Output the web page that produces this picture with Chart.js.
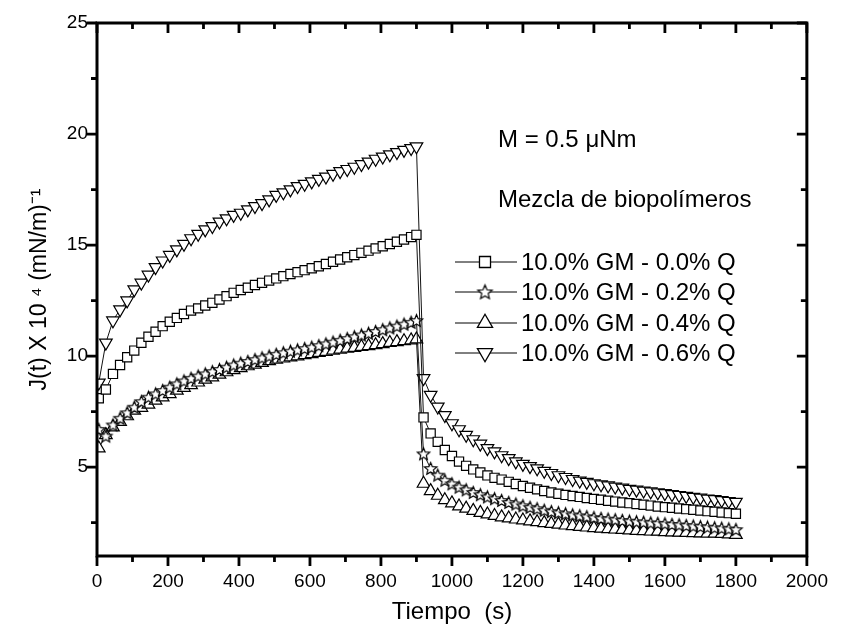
<!DOCTYPE html>
<html>
<head>
<meta charset="utf-8">
<script src="https://cdn.jsdelivr.net/npm/chart.js@4.4.1/dist/chart.umd.min.js"></script>
<style>
  html, body { margin: 0; padding: 0; background: #fff; }
  #wrap { width: 842px; height: 640px; }
</style>
</head>
<body>
<div id="wrap"><canvas id="canvas1"></canvas></div>
<script>
// tiempos de medida (s): fluencia 0-900, recuperacion 900-1800
const tiempos = [5,25,45,65,85,105,125,145,165,185,205,225,245,265,285,305,325,345,365,385,405,425,445,465,485,505,525,545,565,585,605,625,645,665,685,705,725,745,765,785,805,825,845,865,885,900,
  920,940,960,980,1000,1020,1040,1060,1080,1100,1120,1140,1160,1180,1200,1220,1240,1260,1280,1300,1320,1340,1360,1380,1400,1420,1440,1460,1480,1500,1520,1540,1560,1580,1600,1620,1640,1660,1680,1700,1720,1740,1760,1780,1800];

const q00 = [8.1,8.5,9.2,9.6,9.95,10.25,10.6,10.87,11.1,11.35,11.55,11.72,11.9,12.05,12.15,12.28,12.4,12.55,12.7,12.85,12.98,13.08,13.2,13.3,13.4,13.5,13.6,13.7,13.78,13.87,13.96,14.05,14.15,14.25,14.35,14.45,14.55,14.65,14.75,14.85,14.95,15.05,15.15,15.25,15.36,15.46,
  7.24,6.52,6.14,5.77,5.5,5.25,5.06,4.9,4.76,4.63,4.52,4.44,4.34,4.24,4.15,4.07,4.0,3.93,3.86,3.8,3.75,3.7,3.66,3.61,3.57,3.53,3.49,3.45,3.41,3.38,3.34,3.31,3.27,3.23,3.2,3.17,3.14,3.11,3.08,3.05,3.02,2.99,2.96,2.93,2.9];

const q02 = [6.7,6.4,6.9,7.2,7.45,7.7,7.95,8.15,8.3,8.45,8.6,8.75,8.88,9.0,9.1,9.2,9.3,9.4,9.5,9.6,9.68,9.76,9.84,9.92,10.0,10.08,10.15,10.22,10.28,10.34,10.4,10.47,10.55,10.63,10.71,10.79,10.87,10.95,11.03,11.11,11.19,11.27,11.35,11.44,11.52,11.6,
  5.6,4.94,4.64,4.41,4.25,4.1,3.98,3.86,3.76,3.66,3.58,3.5,3.41,3.34,3.26,3.19,3.13,3.06,3.0,2.95,2.9,2.85,2.81,2.77,2.73,2.69,2.66,2.63,2.6,2.57,2.54,2.52,2.49,2.47,2.45,2.42,2.4,2.37,2.35,2.32,2.3,2.27,2.25,2.22,2.19];

const q04 = [5.85,6.45,6.8,7.05,7.3,7.55,7.68,7.82,8.0,8.15,8.3,8.45,8.58,8.7,8.82,8.95,9.05,9.17,9.28,9.38,9.47,9.55,9.62,9.7,9.78,9.85,9.9,9.95,10.0,10.05,10.1,10.15,10.2,10.25,10.3,10.34,10.38,10.42,10.46,10.5,10.55,10.6,10.64,10.68,10.72,10.76,
  4.26,3.93,3.72,3.52,3.38,3.24,3.14,3.04,2.95,2.88,2.81,2.75,2.7,2.65,2.61,2.57,2.53,2.49,2.45,2.42,2.38,2.35,2.32,2.29,2.26,2.24,2.22,2.2,2.18,2.16,2.14,2.13,2.11,2.1,2.08,2.07,2.06,2.05,2.04,2.03,2.02,2.01,2.0,1.98,1.96];

const q06 = [8.8,10.6,11.6,12.1,12.5,13.0,13.3,13.66,14.0,14.3,14.55,14.8,15.05,15.3,15.5,15.7,15.85,16.05,16.2,16.35,16.45,16.6,16.75,16.88,17.05,17.25,17.37,17.5,17.65,17.75,17.86,17.97,18.08,18.2,18.32,18.42,18.52,18.64,18.75,18.88,18.98,19.08,19.18,19.28,19.36,19.44,
  9.0,8.25,7.72,7.34,6.97,6.7,6.45,6.25,6.05,5.85,5.7,5.53,5.4,5.25,5.14,5.04,4.94,4.83,4.73,4.63,4.55,4.46,4.39,4.33,4.27,4.22,4.17,4.12,4.07,4.02,3.98,3.94,3.9,3.86,3.82,3.78,3.74,3.7,3.66,3.62,3.58,3.55,3.51,3.47,3.43];

const etiquetas = ['10.0% GM - 0.0% Q', '10.0% GM - 0.2% Q', '10.0% GM - 0.4% Q', '10.0% GM - 0.6% Q'];

// marcas de los ejes
const xMayores = [0,200,400,600,800,1000,1200,1400,1600,1800,2000];
const xMenores = [100,300,500,700,900,1100,1300,1500,1700,1900];
const yMayores = [5,10,15,20,25];
const yMenores = [2.5,7.5,12.5,17.5,22.5];

const FUENTE = "'Liberation Sans', Arial, sans-serif";

function estrella(r) {
  const c = document.createElement('canvas');
  const s = Math.ceil(r * 2 + 4);
  c.width = s; c.height = s;
  const g = c.getContext('2d');
  g.beginPath();
  for (let k = 0; k < 10; k++) {
    const rr = k % 2 === 0 ? r : r * 0.45;
    const a = -Math.PI / 2 + k * Math.PI / 5;
    const px = s / 2 + rr * Math.cos(a), py = s / 2 + 0.5 + rr * Math.sin(a);
    if (k === 0) g.moveTo(px, py); else g.lineTo(px, py);
  }
  g.closePath();
  g.fillStyle = '#fff'; g.fill();
  g.lineWidth = 1.2; g.strokeStyle = '#000'; g.stroke();
  return c;
}

const puntos = serie => tiempos.map((t, i) => ({ x: t, y: serie[i] }));

const serieBase = {
  borderColor: '#111',
  borderWidth: 1,
  pointBackgroundColor: '#fff',
  pointBorderColor: '#000',
  pointBorderWidth: 1.2,
  tension: 0,
  fill: false
};

window.addEventListener("load", () => {

  const canvas1 = document.getElementById('canvas1');

  const marco = {
    id: 'marco',
    afterDatasetsDraw(chart) {
      const ctx = chart.ctx;
      const a = chart.chartArea;
      const sx = chart.scales.x, sy = chart.scales.y;
      ctx.save();
      ctx.strokeStyle = '#000';
      ctx.lineWidth = 2.8;
      ctx.lineCap = 'butt';
      ctx.beginPath();
      const marca = (x1, y1, x2, y2) => { ctx.moveTo(x1, y1); ctx.lineTo(x2, y2); };
      xMayores.forEach(v => {
        const p = sx.getPixelForValue(v);
        marca(p, a.bottom, p, a.bottom + 10);
        marca(p, a.top, p, a.top + 10);
      });
      xMenores.forEach(v => {
        const p = sx.getPixelForValue(v);
        marca(p, a.bottom, p, a.bottom + 6);
        marca(p, a.top, p, a.top + 6);
      });
      yMayores.forEach(v => {
        const p = sy.getPixelForValue(v);
        marca(a.left, p, a.left - 10, p);
        marca(a.right, p, a.right - 10, p);
      });
      yMenores.forEach(v => {
        const p = sy.getPixelForValue(v);
        marca(a.left, p, a.left - 6, p);
        marca(a.right, p, a.right - 6, p);
      });
      ctx.stroke();
      ctx.lineWidth = 3;
      ctx.strokeRect(a.left, a.top, a.right - a.left, a.bottom - a.top);

      // textos y leyenda
      ctx.fillStyle = '#000';
      ctx.font = '24px ' + FUENTE;
      ctx.textAlign = 'left';
      ctx.textBaseline = 'alphabetic';
      ctx.fillText('M = 0.5 \u03bcNm', 498, 147);
      ctx.fillText('Mezcla de biopol\u00edmeros', 498, 207);

      const filas = [270, 300, 331, 361];
      chart.data.datasets.forEach((ds, i) => {
        const yc = filas[i] - 8;
        ctx.strokeStyle = '#000';
        ctx.lineWidth = 1;
        ctx.beginPath();
        ctx.moveTo(455, yc); ctx.lineTo(517, yc);
        ctx.stroke();
        ctx.fillStyle = '#fff';
        ctx.lineWidth = 1.3;
        const estilo = ds.legendStar || ds.pointStyle;
        Chart.helpers.drawPoint(ctx, {
          pointStyle: estilo,
          rotation: ds.pointRotation || 0,
          radius: ds.pointRadius * 1.2,
          borderWidth: 1.3
        }, 485, yc);
        ctx.fillStyle = '#000';
        ctx.fillText(etiquetas[i], 521, filas[i]);
      });
      ctx.restore();
    }
  };

  new Chart(canvas1, {
    type: 'line',
    data: {
      datasets: [
        Object.assign({}, serieBase, { label: etiquetas[0], data: puntos(q00), pointStyle: 'rect', pointRadius: 6.5 }),
        Object.assign({}, serieBase, { label: etiquetas[1], data: puntos(q02), pointStyle: estrella(6.5), pointRadius: 6.5, legendStar: estrella(7.5) }),
        Object.assign({}, serieBase, { label: etiquetas[2], data: puntos(q04), pointStyle: 'triangle', pointRadius: 7.3 }),
        Object.assign({}, serieBase, { label: etiquetas[3], data: puntos(q06), pointStyle: 'triangle', pointRotation: 180, pointRadius: 7.3 })
      ]
    },
    options: {
      responsive: true,
      maintainAspectRatio: false,
      animation: false,
      layout: { padding: { top: 23, right: 30, left: 0, bottom: 0 } },
      plugins: {
        legend: { display: false },
        tooltip: { enabled: false }
      },
      scales: {
        x: {
          type: 'linear',
          min: 0,
          max: 2000,
          afterBuildTicks: s => { s.ticks = xMayores.map(v => ({ value: v })); },
          ticks: { autoSkip: false, maxRotation: 0, padding: 14, color: '#000', font: { family: FUENTE, size: 19 }, callback: v => String(v) },
          grid: { display: false, drawTicks: false },
          border: { display: false },
          title: { display: true, text: 'Tiempo  (s)', color: '#000', font: { family: FUENTE, size: 24 }, padding: { top: 0, bottom: 13 } },
          afterFit: s => { s.height = 84; }
        },
        y: {
          min: 1,
          max: 25,
          afterBuildTicks: s => { s.ticks = yMayores.map(v => ({ value: v })); },
          ticks: { padding: 9, color: '#000', font: { family: FUENTE, size: 19 }, callback: v => String(v) },
          grid: { display: false, drawTicks: false },
          border: { display: false },
          title: { display: true, text: 'J(t) X 10 \u2074 (mN/m)\u207b\u00b9', color: '#000', font: { family: FUENTE, size: 23 }, padding: { top: 26, bottom: 0 } },
          afterFit: s => { s.width = 97; }
        }
      }
    },
    plugins: [marco]
  });

});
</script>
</body>
</html>
